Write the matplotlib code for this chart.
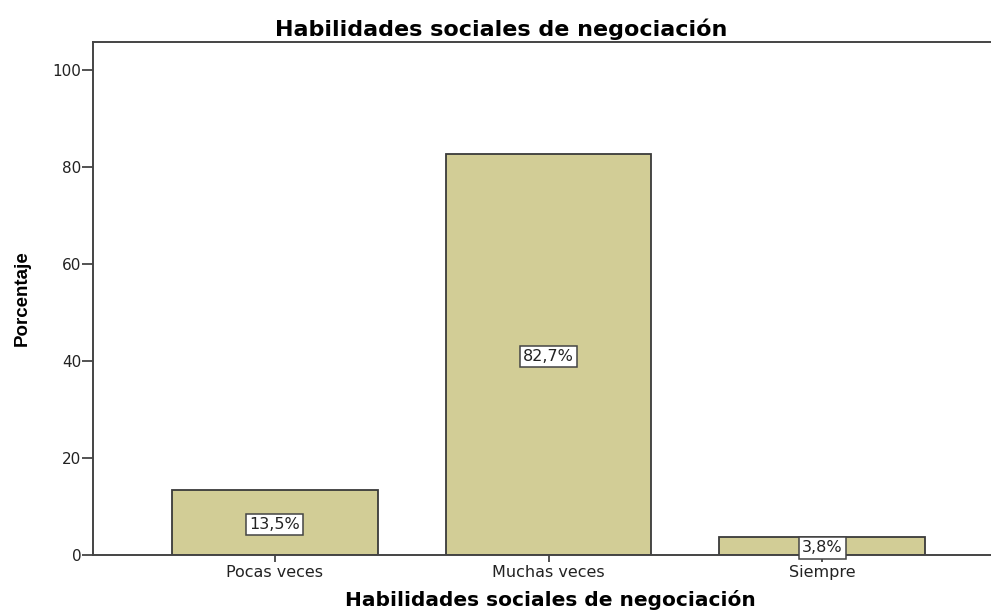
import matplotlib
matplotlib.use("Agg")
import matplotlib.pyplot as plt

categories = ["Pocas veces", "Muchas veces", "Siempre"]
values = [13.5, 82.7, 3.8]
labels = ["13,5%", "82,7%", "3,8%"]
yticks = [0, 20, 40, 60, 80, 100]

W, H = 991, 612
fig = plt.figure(figsize=(W / 100, H / 100), dpi=100)
left, right, top, bottom = 93, 1004, 42, 555
ax = fig.add_axes([left / W, 1 - bottom / H, (right - left) / W, (bottom - top) / H])

FONT = "DejaVu Sans"
x = list(range(len(categories)))
ax.bar(x, values, width=0.75, color="#D2CD96", edgecolor="#3a3a3a", linewidth=1.3, zorder=2)
for xi, v, lab in zip(x, values, labels):
    ax.annotate(lab, (xi, v / 2), xytext=(0, -1.5), textcoords="offset points",
                ha="center", va="center", fontsize=11.5, family=FONT,
                color="#222222", zorder=3, annotation_clip=False,
                bbox=dict(boxstyle="square,pad=0.2", facecolor="white", edgecolor="#444444", linewidth=1.1))

ax.set_xlim(-0.665, 2.665)
ax.set_ylim(0, 105.8)
ax.set_yticks(yticks)
ax.set_xticks(x)
ax.set_xticklabels(categories)
ax.tick_params(axis="y", length=8, width=1.3, color="#444444", labelsize=11, pad=0.5)
ax.tick_params(axis="x", length=5, width=1.3, color="#444444", labelsize=11.5, pad=2.5)
for lab in ax.get_xticklabels() + ax.get_yticklabels():
    lab.set_family(FONT)
    lab.set_color("#222222")
for s in ["left", "bottom", "top", "right"]:
    ax.spines[s].set_color("#444444")
    ax.spines[s].set_linewidth(1.4)

ax.set_title("Habilidades sociales de negociación", fontsize=16, fontweight="bold",
             family=FONT, pad=4, x=(501 - left) / (right - left))
ax.set_xlabel("Habilidades sociales de negociación", fontsize=14.5, fontweight="bold",
              family=FONT)
ax.xaxis.set_label_coords((550 - left) / (right - left), -(600 - bottom) / (bottom - top))
ax.xaxis.label.set_va("center")
ax.set_ylabel("Porcentaje", fontsize=13.5, fontweight="bold",
              family=["Liberation Sans Narrow", "Liberation Sans"])
ax.yaxis.set_label_coords(-(93 - 22) / (right - left), 0.5)
ax.yaxis.label.set_va("center")

fig.savefig("out.png", dpi=100)
